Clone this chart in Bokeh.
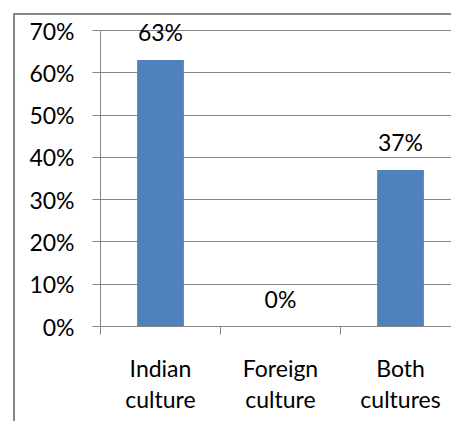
from bokeh.plotting import figure
from bokeh.models import Range1d, FixedTicker, LinearAxis, Label, PrintfTickFormatter
from bokeh.embed import file_html
from bokeh.resources import INLINE

categories = ["Indian culture", "Foreign culture", "Both cultures"]
line1 = ["Indian", "Foreign", "Both"]
line2 = ["culture", "culture", "cultures"]
values = [63, 0, 37]
labels = ["63%", "0%", "37%"]
y_ticks = [0, 10, 20, 30, 40, 50, 60, 70]

FONT = "Lato"
FS = "23px"
GRAY = "#868686"

xs = [i + 0.5 for i in range(len(categories))]
y_max = y_ticks[-1]

# a little headroom above the top gridline so the "63%" label is not clipped
p = figure(width=438, height=408, output_backend="svg", toolbar_location=None,
           x_range=Range1d(0, 353 / 120), y_range=Range1d(0, y_max * 308 / 296),
           min_border_left=85, min_border_right=0, min_border_top=3, min_border_bottom=97,
           x_axis_location=None)
p.styles = {"margin-left": "13px", "margin-top": "13px",
            "border-left": f"2px solid {GRAY}", "border-top": f"2px solid {GRAY}"}
p.outline_line_color = None
p.background_fill_color = "white"
p.border_fill_color = "white"

p.vbar(x=xs, top=values, width=0.39, fill_color="#4f81bd", line_color=None)

for x, v, t in zip(xs, values, labels):
    p.add_layout(Label(x=x, y=v, text=t, text_align="center", text_baseline="alphabetic",
                       y_offset=28, text_font=FONT, text_font_size=FS, text_color="black"))

# y axis
ya = p.yaxis[0]
ya.bounds = (0, y_max)
ya.ticker = FixedTicker(ticks=y_ticks)
ya.formatter = PrintfTickFormatter(format="%d%%")
ya.axis_line_color = GRAY
ya.major_tick_line_color = GRAY
ya.major_tick_out = 8
ya.major_tick_in = 0
ya.minor_tick_line_color = None
ya.major_label_standoff = 18
ya.major_label_text_font = FONT
ya.major_label_text_font_size = FS
ya.major_label_text_color = "black"

p.ygrid.ticker = FixedTicker(ticks=y_ticks)
p.ygrid.grid_line_color = GRAY
p.xgrid.grid_line_color = None

# x axes (two lines of category labels)
xa1 = LinearAxis(ticker=FixedTicker(ticks=xs, minor_ticks=[0, 1, 2, 3]),
                 major_label_overrides={x: t for x, t in zip(xs, line1)})
xa1.axis_line_color = GRAY
xa1.major_tick_line_color = None
xa1.major_tick_out = 0
xa1.major_tick_in = 0
xa1.minor_tick_line_color = GRAY
xa1.minor_tick_out = 8
xa1.minor_tick_in = 0
xa1.major_label_standoff = 19
xa1.major_label_text_font = FONT
xa1.major_label_text_font_size = FS
xa1.major_label_text_color = "black"
p.add_layout(xa1, "below")

xa2 = LinearAxis(ticker=FixedTicker(ticks=xs),
                 major_label_overrides={x: t for x, t in zip(xs, line2)})
xa2.axis_line_color = None
xa2.major_tick_line_color = None
xa2.major_tick_out = 0
xa2.major_tick_in = 0
xa2.minor_tick_line_color = None
xa2.major_label_standoff = 0
xa2.major_label_text_font = FONT
xa2.major_label_text_font_size = FS
xa2.major_label_text_color = "black"
p.add_layout(xa2, "below")

open("out.html", "w").write(file_html(p, INLINE))
